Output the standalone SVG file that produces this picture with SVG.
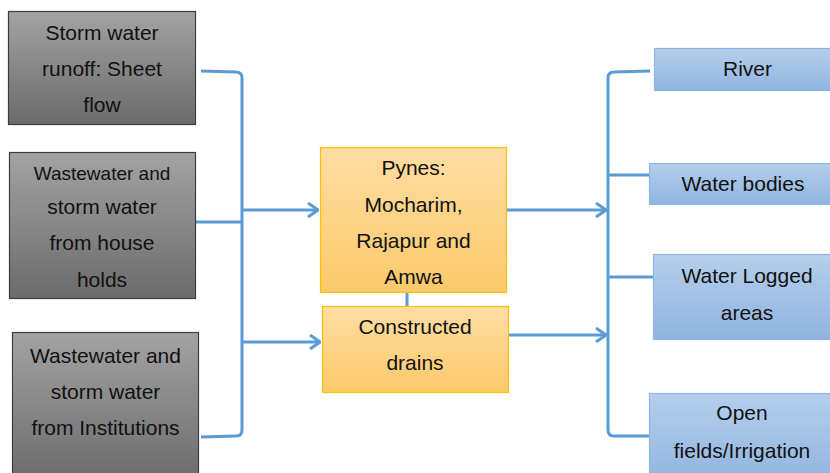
<svg xmlns="http://www.w3.org/2000/svg" width="830" height="473" viewBox="0 0 830 473">
<defs>
<linearGradient id="gGray" x1="0" y1="0" x2="0" y2="1"><stop offset="0" stop-color="#a3a3a3"/><stop offset="1" stop-color="#6b6b6b"/></linearGradient>
<linearGradient id="gOrange" x1="0" y1="0" x2="0" y2="1"><stop offset="0" stop-color="#fedda3"/><stop offset="1" stop-color="#fcc96a"/></linearGradient>
<linearGradient id="gBlue" x1="0" y1="0" x2="0" y2="1"><stop offset="0" stop-color="#b5cfec"/><stop offset="1" stop-color="#90b3df"/></linearGradient>
<marker id="arr" viewBox="0 0 12 16" refX="11" refY="8" markerWidth="12" markerHeight="16" markerUnits="userSpaceOnUse" orient="auto">
<path d="M1,1 L11,8 L1,15" fill="none" stroke="#5b9bd5" stroke-width="3"/>
</marker>
<style>
.gray{fill:url(#gGray);stroke:#3d3d3d;stroke-width:1.2}
.orange{fill:url(#gOrange);stroke:#ffc000;stroke-width:1.2}
.blue{fill:url(#gBlue);stroke:#8fb5e3;stroke-width:1.2}
text{font-family:"Liberation Sans",Arial,sans-serif;font-size:21px;fill:#111;text-anchor:middle}
.ln{fill:none;stroke:#5b9bd5;stroke-width:3}
</style>
</defs>
<g id="connectors">
<path class="ln" d="M201,71 L236,72 Q242,72 242,78 L242,430 Q242,436 236,436 L201,437"/>
<path class="ln" d="M196,222 L242,222"/>
<path class="ln" d="M242,210 L318,210" marker-end="url(#arr)"/>
<path class="ln" d="M242,342 L320,342" marker-end="url(#arr)"/>
<path class="ln" d="M407,292 L407,306"/>
<path class="ln" d="M507,210 L606,210" marker-end="url(#arr)"/>
<path class="ln" d="M509,335 L606,335" marker-end="url(#arr)"/>
<path class="ln" d="M650,71 L614,72 Q608,72 608,78 L608,430 Q608,436 614,436 L650,436"/>
<path class="ln" d="M608,175 L649,175"/>
<path class="ln" d="M608,277 L653,277"/>
</g>
<g id="src1"><rect class="gray" x="8.5" y="11.5" width="187" height="113"/>
<text x="102" y="39.5">Storm water</text><text x="102" y="76">runoff: Sheet</text><text x="102" y="112">flow</text></g>
<g id="src2"><rect class="gray" x="9.5" y="152.5" width="186" height="146"/>
<text x="102" y="180" style="font-size:19px">Wastewater and</text><text x="102" y="214">storm water</text><text x="102" y="250">from house</text><text x="102" y="287">holds</text></g>
<g id="src3"><rect class="gray" x="12.5" y="332.5" width="186" height="150"/>
<text x="105.5" y="363">Wastewater and</text><text x="105.5" y="399">storm water</text><text x="105.5" y="435">from Institutions</text></g>
<g id="pynes"><rect class="orange" x="320.5" y="147.5" width="186" height="145"/>
<text x="413.5" y="175">Pynes:</text><text x="413.5" y="212">Mocharim,</text><text x="413.5" y="248">Rajapur and</text><text x="413.5" y="284">Amwa</text></g>
<g id="drains"><rect class="orange" x="322.5" y="306.5" width="186" height="86"/>
<text x="415" y="334">Constructed</text><text x="415" y="370">drains</text></g>
<g id="river"><rect class="blue" x="654.5" y="48.5" width="185" height="42"/>
<text x="747.5" y="76">River</text></g>
<g id="waterbodies"><rect class="blue" x="649.5" y="163.5" width="190" height="41"/>
<text x="743" y="191">Water bodies</text></g>
<g id="waterlogged"><rect class="blue" x="653.5" y="254.5" width="186" height="85"/>
<text x="747" y="283">Water Logged</text><text x="747" y="320">areas</text></g>
<g id="openfields"><rect class="blue" x="649.5" y="393.5" width="190" height="90"/>
<text x="742" y="420">Open</text><text x="742" y="458">fields/Irrigation</text></g>
</svg>
